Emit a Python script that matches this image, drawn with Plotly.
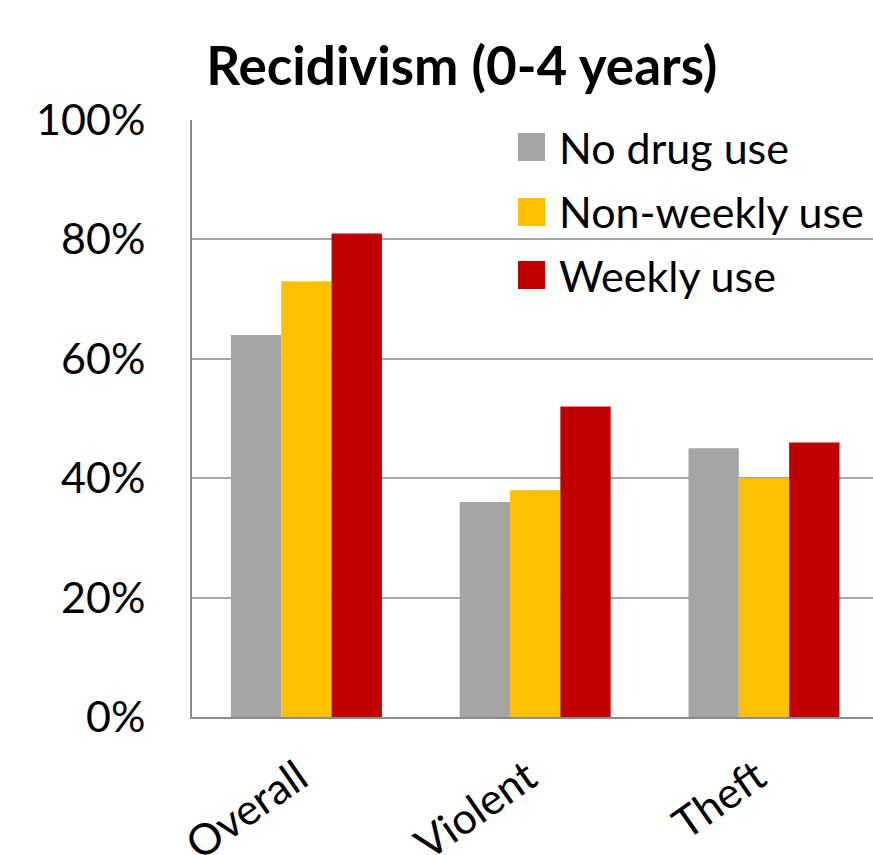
import plotly.graph_objects as go

# Recidivism rates within 0-4 years by offense type and drug use
categories = ["Overall", "Violent", "Theft"]
series_names = ["No drug use", "Non-weekly use", "Weekly use"]
no_drug_use = [0.64, 0.36, 0.45]
non_weekly_use = [0.73, 0.38, 0.40]
weekly_use = [0.81, 0.52, 0.46]
series_colors = ["#A5A5A5", "#FFC000", "#C00000"]
y_ticks = [0, 0.2, 0.4, 0.6, 0.8, 1.0]

FONT = "Lato, 'Open Sans', sans-serif"

fig = go.Figure()
for name, vals, col in zip(series_names, [no_drug_use, non_weekly_use, weekly_use], series_colors):
    fig.add_trace(go.Bar(
        x=categories, y=vals, name=name,
        marker=dict(color=col, line=dict(width=0)),
        showlegend=False,
    ))

# Legend keys drawn as large square swatches with labels
legend_x0, legend_w = 0.4787, 0.0397
legend_rows = [147, 212, 275]  # pixel centers of legend rows
plot_top, plot_h = 120, 597
for name, col, yc in zip(series_names, series_colors, legend_rows):
    yp = (plot_top + plot_h - yc) / plot_h
    half = 14 / plot_h
    fig.add_shape(type="rect", xref="paper", yref="paper",
                  x0=legend_x0, x1=legend_x0 + legend_w, y0=yp - half, y1=yp + half,
                  fillcolor=col, line=dict(width=0), layer="above")
    fig.add_annotation(xref="paper", yref="paper", x=0.536, y=yp,
                       text=name, showarrow=False, xanchor="left", yanchor="middle",
                       font=dict(family=FONT, size=43, color="black"))

# Slanted category labels, anchored at their end just below each category
for cat in categories:
    fig.add_annotation(xref="x", yref="paper", x=cat, y=-0.0486, xshift=13,
                       text=cat, showarrow=False, textangle=-35,
                       xanchor="right", yanchor="top",
                       font=dict(family=FONT, size=43, color="black"))

fig.update_layout(
    width=873, height=855,
    margin=dict(l=192, r=0, t=120, b=138, autoexpand=False),
    paper_bgcolor="white", plot_bgcolor="white",
    barmode="group", bargap=0.34, bargroupgap=0,
    title=dict(text="<b>Recidivism (0-4 years)</b>", x=0.529, xref="container",
               xanchor="center", y=1 - 66 / 855, yref="container", yanchor="middle",
               font=dict(family=FONT, size=53, color="black")),
    font=dict(family=FONT, color="black"),
    showlegend=False,
)
fig.update_xaxes(
    range=[-0.5, 2.4765], showgrid=False, showline=True, linecolor="#8C8C8C", linewidth=2,
    ticks="", showticklabels=False, zeroline=False, automargin=False,
)
fig.update_yaxes(
    range=[0, 1], tickvals=y_ticks, tickformat=".0%",
    showgrid=True, gridcolor="#A6A6A6", gridwidth=1.5,
    showline=True, linecolor="#8C8C8C", linewidth=2, ticks="",
    tickfont=dict(family=FONT, size=43, color="black"),
    ticklabelstandoff=36, zeroline=False, automargin=False,
)

fig.write_html("out.html")
